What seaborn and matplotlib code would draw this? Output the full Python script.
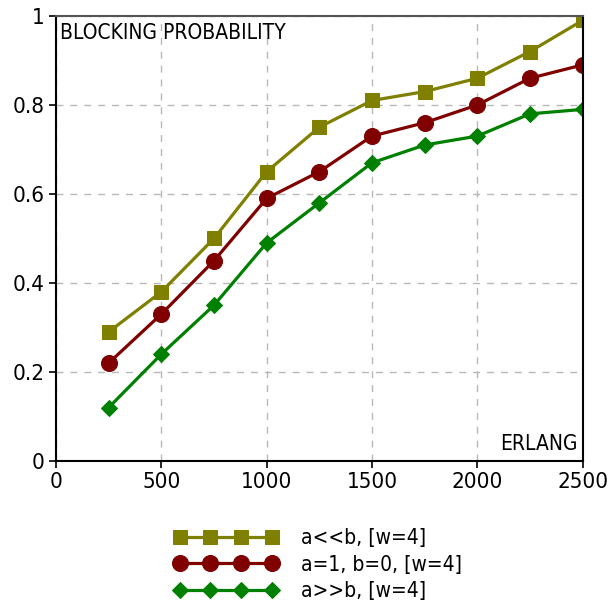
import pandas as pd
import matplotlib.pyplot as plt
import seaborn as sns

erlang = [250, 500, 750, 1000, 1250, 1500, 1750, 2000, 2250, 2500]
p_a_less_b = [0.29, 0.38, 0.50, 0.65, 0.75, 0.81, 0.83, 0.86, 0.92, 0.99]
p_a1_b0 = [0.22, 0.33, 0.45, 0.59, 0.65, 0.73, 0.76, 0.80, 0.86, 0.89]
p_a_more_b = [0.12, 0.24, 0.35, 0.49, 0.58, 0.67, 0.71, 0.73, 0.78, 0.79]
labels = ['a<<b, [w=4]', 'a=1, b=0, [w=4]', 'a>>b, [w=4]']

sns.set_style('white')
plt.rcParams['font.family'] = ['DejaVu Sans']
plt.rcParams['font.stretch'] = 'condensed'
plt.rcParams['text.color'] = 'black'

fig = plt.figure(figsize=(6.16, 6.08), dpi=100)
ax = fig.add_axes([0.0909, 0.2418, 0.855, 0.732])

series = [
    (p_a_less_b, labels[0], '#808000', 's', 10),
    (p_a1_b0, labels[1], '#800000', 'o', 11.5),
    (p_a_more_b, labels[2], '#008000', 'D', 8.5),
]
for vals, lab, col, mk, ms in series:
    df = pd.DataFrame({'x': erlang, 'y': vals})
    sns.lineplot(data=df, x='x', y='y', ax=ax, color=col, marker=mk,
                 markersize=ms, markeredgecolor=col, linewidth=2.3, label=lab)

ax.set_xlim(0, 2500)
ax.set_ylim(0, 1)
ax.set_xticks([0, 500, 1000, 1500, 2000, 2500])
ax.set_yticks([0, 0.2, 0.4, 0.6, 0.8, 1])
ax.set_yticklabels(['0', '0.2', '0.4', '0.6', '0.8', '1'])
ax.set_xlabel('')
ax.set_ylabel('')
ax.grid(True, color='#b8b8b8', linestyle=(0, (5, 5)), linewidth=1)
ax.tick_params(direction='out', length=5, width=1.2, colors='black',
               labelcolor='black', labelsize=16, left=True, bottom=True, pad=3)
for s in ['left', 'bottom', 'right']:
    ax.spines[s].set_color('black')
    ax.spines[s].set_linewidth(1.5)
ax.spines['top'].set_color('#555555')
ax.spines['top'].set_linewidth(1.5)

ax.text(0.008, 0.985, 'BLOCKING PROBABILITY', transform=ax.transAxes,
        ha='left', va='top', fontsize=15, color='black')
ax.text(0.99, 0.015, 'ERLANG', transform=ax.transAxes,
        ha='right', va='bottom', fontsize=15, color='black')

handles, labs = ax.get_legend_handles_labels()
ax.get_legend().remove()
leg = fig.legend(handles, labs, loc='upper left', bbox_to_anchor=(0.265, 0.148),
                 frameon=False, numpoints=4, handlelength=5.0, fontsize=15,
                 labelspacing=0.3, handletextpad=1.1, borderpad=0)
for t in leg.get_texts():
    t.set_color('black')

fig.savefig('out.png', dpi=100)
